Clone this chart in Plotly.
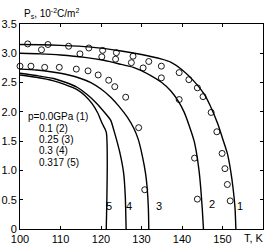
import plotly.graph_objects as go

# Theory curves (T in K, Ps in 10^-2 C/m^2)
c1_T = [100, 105, 110, 117, 125, 130, 135, 137.2, 140, 143, 145.4, 147, 148.8, 150, 151.2, 152, 152.6, 153.1, 153.3]
c1_P = [3.15, 3.145, 3.135, 3.11, 3.04, 2.98, 2.90, 2.85, 2.72, 2.52, 2.31, 2.10, 1.80, 1.55, 1.29, 1.00, 0.70, 0.35, 0]
c2_T = [100, 105, 110, 116, 120.7, 125, 128, 132.3, 135, 137.2, 139, 140.5, 141.8, 143, 143.6, 144.2, 144.6, 145, 145.3]
c2_P = [3.00, 2.99, 2.97, 2.93, 2.88, 2.81, 2.76, 2.62, 2.50, 2.36, 2.19, 2.00, 1.76, 1.50, 1.29, 1.00, 0.72, 0.35, 0]
c3_T = [100, 104, 108, 112, 115, 117.5, 120, 122.4, 124.5, 126.5, 128.1, 129.2, 130.2, 131, 131.4, 131.7, 131.8]
c3_P = [2.73, 2.715, 2.68, 2.63, 2.57, 2.50, 2.39, 2.25, 2.09, 1.91, 1.72, 1.53, 1.25, 0.95, 0.70, 0.35, 0]
c4_T = [100, 104, 108.3, 111, 114.1, 116.5, 119, 121, 122.4, 123.2, 124.6, 125.6, 126.0, 126.2]
c4_P = [2.66, 2.62, 2.57, 2.51, 2.42, 2.30, 2.14, 1.98, 1.855, 1.68, 1.32, 0.95, 0.55, 0]
c5_T = [100, 104, 108.3, 111, 114.1, 116, 117.8, 119.2, 120.3, 121.3, 121.3]
c5_P = [2.63, 2.59, 2.53, 2.47, 2.38, 2.28, 2.14, 1.98, 1.80, 1.655, 0]

# Experimental points (open circles)
s1_T = [101.9, 106.9, 112.0, 117.0, 120.4, 123.8, 127.9, 131.8, 134.9, 139.3, 141.7, 143.8, 145.2, 147.2, 148.6, 149.9, 150.6, 151.2, 151.9]
s1_P = [3.16, 3.15, 3.12, 3.09, 3.05, 3.01, 2.95, 2.86, 2.78, 2.67, 2.55, 2.41, 2.26, 1.99, 1.66, 1.29, 1.03, 0.76, 0.48]
s2_T = [105.3, 114.8, 120.2, 123.6, 127.5, 130.4, 134.9, 139.3, 143.1, 143.8]
s2_P = [3.06, 2.99, 2.94, 2.90, 2.84, 2.75, 2.58, 2.21, 1.21, 0.51]
s3_T = [100.0, 102.7, 106.1, 109.7, 113.9, 116.8, 119.3, 121.9, 123.4, 126.1, 129.3, 130.8]
s3_P = [2.78, 2.78, 2.76, 2.76, 2.73, 2.70, 2.63, 2.54, 2.43, 2.25, 1.73, 0.67]

x_ticks = [100, 110, 120, 130, 140, 150]
y_ticks = [0, 0.5, 1.0, 1.5, 2.0, 2.5, 3.0, 3.5]
y_ticktext = ["0", "0.5", "1.0", "1.5", "2.0", "2.5", "3.0", "3.5"]

curve_labels = ["1", "2", "3", "4", "5"]
curve_label_T = [154.3, 147.4, 134.3, 126.9, 121.9]
curve_label_P = [0.40, 0.43, 0.40, 0.39, 0.39]

legend_lines = ["p=0.0GPa (1)", "0.1 (2)", "0.25 (3)", "0.3 (4)", "0.317 (5)"]
legend_T = [101.56, 104.2, 104.2, 104.2, 104.2]
legend_P = [1.915, 1.72, 1.527, 1.333, 1.138]

FONT = "Liberation Sans, Arial, sans-serif"

fig = go.Figure()
for T, P in [(c1_T, c1_P), (c2_T, c2_P), (c3_T, c3_P), (c4_T, c4_P), (c5_T, c5_P)]:
    fig.add_trace(go.Scatter(x=T, y=P, mode="lines",
                             line=dict(color="black", width=1.4, shape="spline", smoothing=0.6),
                             showlegend=False, hoverinfo="skip"))
for T, P in [(s1_T, s1_P), (s2_T, s2_P), (s3_T, s3_P)]:
    fig.add_trace(go.Scatter(x=T, y=P, mode="markers",
                             marker=dict(symbol="circle-open", size=6, color="black",
                                         line=dict(width=0.9, color="black")),
                             showlegend=False, hoverinfo="skip", cliponaxis=False))

annotations = []
for t, x, y in zip(curve_labels, curve_label_T, curve_label_P):
    annotations.append(dict(x=x, y=y, xref="x", yref="y", text=t, showarrow=False,
                            font=dict(size=11, color="black", family=FONT),
                            xanchor="center", yanchor="middle"))
for t, x, y in zip(legend_lines, legend_T, legend_P):
    annotations.append(dict(x=x, y=y, xref="x", yref="y", text=t, showarrow=False,
                            font=dict(size=10, color="black", family=FONT),
                            xanchor="left", yanchor="middle"))
annotations.append(dict(x=0.008, y=1.051, xref="paper", yref="paper",
                        text="P<sub>s</sub>, 10<sup>-2</sup>C/m<sup>2</sup>", showarrow=False,
                        font=dict(size=10, color="black", family=FONT),
                        xanchor="left", yanchor="middle"))
annotations.append(dict(x=1.013, y=-0.045, xref="paper", yref="paper",
                        text="T, K", showarrow=False,
                        font=dict(size=11, color="black", family=FONT),
                        xanchor="right", yanchor="middle"))

fig.update_layout(
    width=271, height=246,
    margin=dict(l=20, r=8, t=24, b=17, pad=0, autoexpand=False),
    paper_bgcolor="white", plot_bgcolor="white",
    font=dict(family=FONT, size=11, color="black"),
    annotations=annotations,
    xaxis=dict(range=[100, 160], tickvals=x_ticks, ticktext=[str(v) for v in x_ticks],
               ticks="inside", ticklen=3, tickcolor="black", showline=True, linecolor="black",
               linewidth=1, mirror="ticks", showgrid=False, zeroline=False, automargin=False,
               tickfont=dict(size=11, family=FONT, color="black")),
    yaxis=dict(range=[0, 3.5], tickvals=y_ticks, ticktext=y_ticktext,
               ticks="inside", ticklen=3, tickcolor="black", showline=True, linecolor="black",
               linewidth=1, mirror="ticks", showgrid=False, zeroline=False, automargin=False,
               tickfont=dict(size=11, family=FONT, color="black")),
)

fig.write_html("out.html", config={"displayModeBar": False},
               post_script="document.body.style.margin='0';document.body.style.overflow='hidden';")
